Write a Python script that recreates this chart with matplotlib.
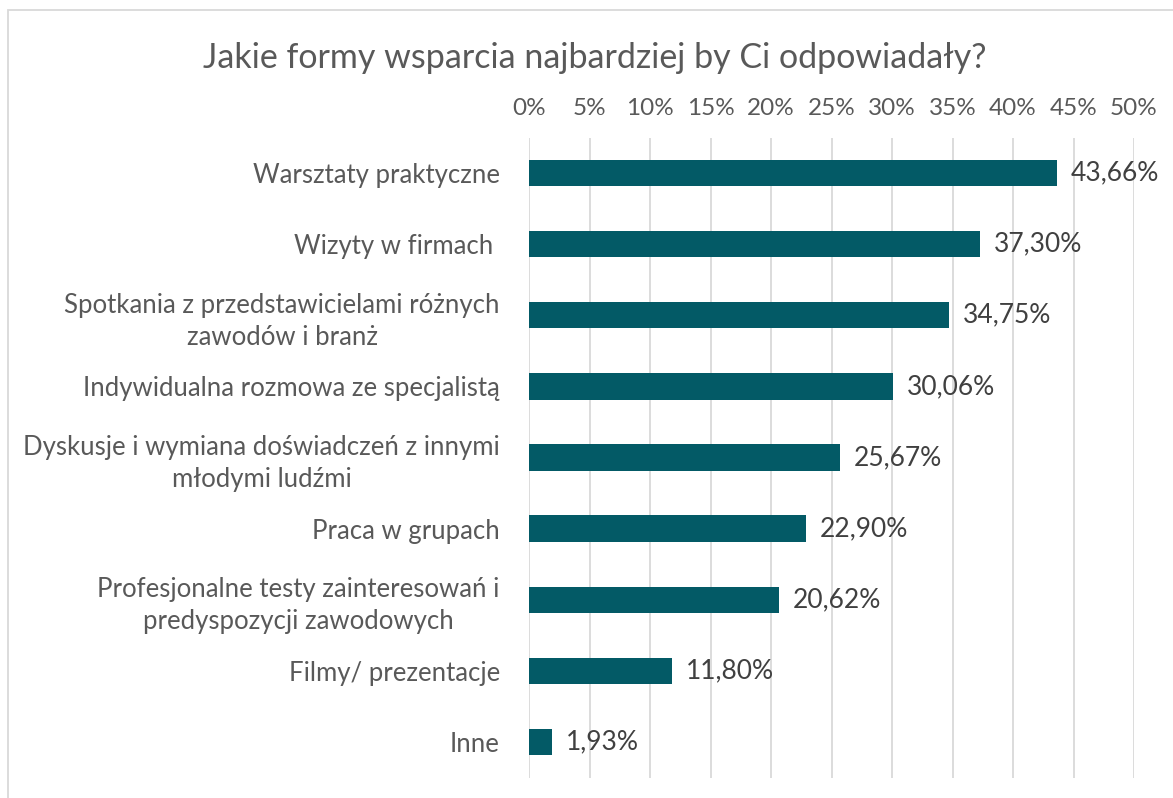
import matplotlib.pyplot as plt
from matplotlib.patches import Rectangle

# Chart data (top to bottom as shown)
categories = [
    'Warsztaty praktyczne',
    'Wizyty w firmach ',
    'Spotkania z przedstawicielami różnych\nzawodów i branż',
    'Indywidualna rozmowa ze specjalistą',
    'Dyskusje i wymiana doświadczeń z innymi\nmłodymi ludźmi',
    'Praca w grupach',
    'Profesjonalne testy zainteresowań i\npredyspozycji zawodowych',
    'Filmy/ prezentacje',
    'Inne',
]
values = [43.66, 37.30, 34.75, 30.06, 25.67, 22.90, 20.62, 11.80, 1.93]
ticks = list(range(0, 55, 5))
title = 'Jakie formy wsparcia najbardziej by Ci odpowiadały?'

plt.rcParams['font.family'] = ['Lato', 'DejaVu Sans']

W, H = 1173, 798
fig = plt.figure(figsize=(W / 100, H / 100), dpi=100)
ax = fig.add_axes([529 / W, 1 - 777.5 / H, (1134 - 529) / W, (777.5 - 137.5) / H])

bar_color = '#035A66'
ypos = list(range(len(categories)))
ax.barh(ypos, values, height=0.37, color=bar_color, zorder=3)
ax.set_ylim(len(categories) - 0.5, -0.5)
ax.set_xlim(0, 50)

ax.set_yticks(ypos)
ax.set_yticklabels(categories, fontsize=18.5, color='#595959',
                   multialignment='center', linespacing=1.35)
ax.set_xticks(ticks)
ax.set_xticklabels([f'{t}%' for t in ticks], fontsize=17.5, color='#595959')
ax.xaxis.tick_top()
ax.tick_params(axis='x', length=0, pad=13)
ax.tick_params(axis='y', length=0, pad=21)
ax.grid(axis='x', color='#D9D9D9', linewidth=1.3, zorder=0)
for s in ax.spines.values():
    s.set_visible(False)

for y, v in zip(ypos, values):
    ax.annotate(f'{v:.2f}%'.replace('.', ','), (v, y), xytext=(10, 0),
                textcoords='offset points', va='center', ha='left',
                fontsize=19, color='#404040')

fig.text(0.5 * (200 + 990) / W, 1 - 58 / H, title, ha='center', va='center',
         fontsize=24.5, color='#595959')

fig.patches.append(Rectangle((8 / W, -0.1), 2, 1.1 - 10 / H, transform=fig.transFigure,
                             fill=False, edgecolor='#D9D9D9', linewidth=1.3))

fig.savefig('out.png', dpi=100, facecolor='white')
